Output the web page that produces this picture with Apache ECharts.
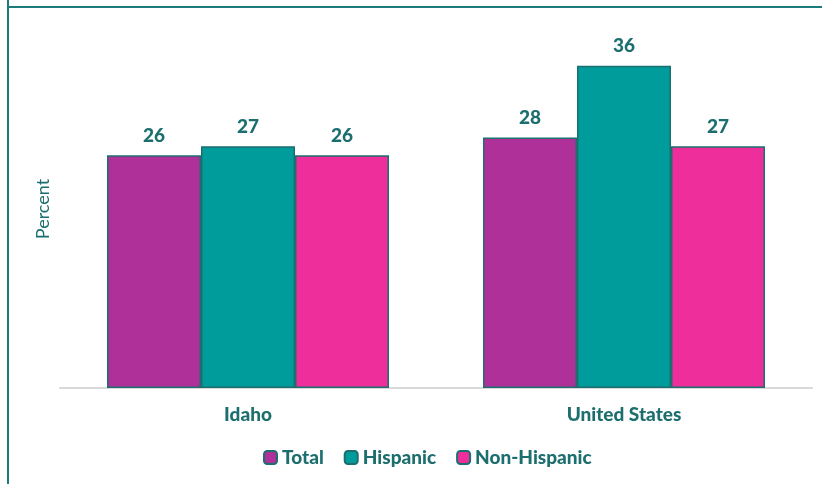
<!DOCTYPE html>
<html>
<head>
<meta charset="utf-8">
<script src="https://cdn.jsdelivr.net/npm/echarts@6/dist/echarts.min.js"></script>
<style>
  html, body { margin: 0; padding: 0; background: #fff; }
  #chart { width: 822px; height: 484px; }
</style>
</head>
<body>
<div id="chart"></div>
<script>
const categories = ['Idaho', 'United States']
const seriesNames = ['Total', 'Hispanic', 'Non-Hispanic']
const totalValues = [26, 28]
const hispanicValues = [27, 36]
const nonHispanicValues = [26, 27]

const colors = ['#b0309a', '#009b9b', '#ee2f9b']
const textColor = '#1d6e6e'
const font = 'Lato, "Open Sans", sans-serif'

const chart = echarts.init(document.getElementById('chart'))

const makeSeries = (name, data, i) => ({
  name: name,
  type: 'bar',
  data: data,
  barGap: '0%',
  barCategoryGap: '25%',
  itemStyle: {
    color: colors[i],
    borderColor: '#1d6e6e',
    borderWidth: 1.5
  },
  label: {
    show: true,
    position: 'top',
    distance: 10,
    color: textColor,
    fontFamily: font,
    fontWeight: 900,
    fontSize: 19
  }
})

chart.setOption({
  animation: false,
  grid: {left: 60, right: 10, top: 30, bottom: 96},
  graphic: [
    {type: 'line', shape: {x1: 8, y1: 0, x2: 8, y2: 484}, style: {stroke: '#1e7b7b', lineWidth: 2}},
    {type: 'line', shape: {x1: 7, y1: 7, x2: 822, y2: 7}, style: {stroke: '#1e7b7b', lineWidth: 2}}
  ],
  legend: {
    bottom: 12,
    left: 258,
    itemWidth: 13,
    itemHeight: 13,
    itemGap: 20,
    textStyle: {color: textColor, fontFamily: font, fontWeight: 900, fontSize: 19},
    data: seriesNames
  },
  xAxis: {
    type: 'category',
    data: categories,
    axisLine: {lineStyle: {color: '#d9d9d9', width: 2}},
    axisTick: {show: false},
    axisLabel: {
      color: textColor,
      fontFamily: font,
      fontWeight: 900,
      fontSize: 19,
      margin: 17
    }
  },
  yAxis: {
    type: 'value',
    min: 0,
    max: 40,
    name: 'Percent',
    nameLocation: 'middle',
    nameGap: 8,
    nameTextStyle: {color: textColor, fontFamily: font, fontSize: 18},
    axisLine: {show: false},
    axisTick: {show: false},
    axisLabel: {show: false},
    splitLine: {show: false}
  },
  series: [
    makeSeries(seriesNames[0], totalValues, 0),
    makeSeries(seriesNames[1], hispanicValues, 1),
    makeSeries(seriesNames[2], nonHispanicValues, 2)
  ]
})
</script>
</body>
</html>
